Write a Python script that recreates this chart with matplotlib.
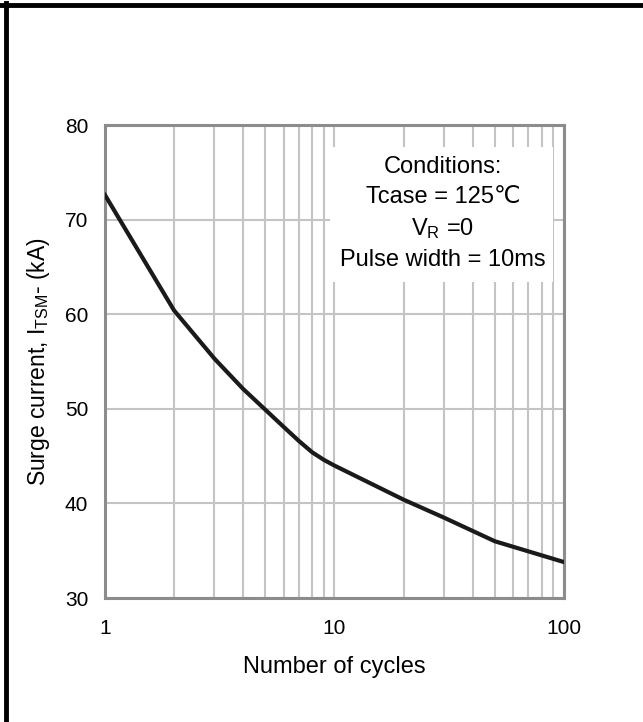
import matplotlib.pyplot as plt
from matplotlib.lines import Line2D
from matplotlib.patches import Rectangle

plt.rcParams['font.family'] = ['Liberation Sans', 'DejaVu Sans']
plt.rcParams['mathtext.fontset'] = 'custom'
plt.rcParams['mathtext.rm'] = 'Liberation Sans'

# Surge current vs number of cycles
cycles = [1, 2, 3, 4, 5, 6, 7, 8, 9, 10, 20, 30, 50, 100]
surge_ka = [72.6, 60.4, 55.3, 52.1, 49.9, 48.1, 46.6, 45.4, 44.6, 44.0, 40.4, 38.5, 36.0, 33.8]

y_ticks = [30, 40, 50, 60, 70, 80]
x_ticks = [1, 10, 100]
x_tick_labels = ['1', '10', '100']

conditions = ['Conditions:', 'Tcase = 125\u2103', r'$\mathregular{V_R}$ =0', 'Pulse width = 10ms']

fig = plt.figure(figsize=(6.43, 7.22), dpi=100)
ax = fig.add_axes([0.1633, 0.1717, 0.7138, 0.6551])

ax.plot(cycles, surge_ka, color='#1a1a1a', linewidth=3.0, zorder=4)

ax.set_xscale('log')
ax.set_xlim(1, 100)
ax.set_ylim(30, 80)
ax.set_xticks(x_ticks)
ax.set_xticklabels(x_tick_labels)
ax.set_yticks(y_ticks)
ax.tick_params(axis='both', which='both', length=0, labelsize=15, colors='black')
ax.tick_params(axis='x', pad=15)
ax.tick_params(axis='y', pad=12)

ax.set_axisbelow(True)
ax.grid(True, which='major', color='#c4c4c4', linewidth=1.5)
ax.grid(True, which='minor', axis='x', color='#c4c4c4', linewidth=1.5)
for s in ax.spines.values():
    s.set_color('#8c8c8c')
    s.set_linewidth(2.2)

ax.set_xlabel('Number of cycles', fontsize=17, labelpad=13)
ax.set_ylabel(r'Surge current, I$_{\mathregular{TSM}}$- (kA)', fontsize=16.5, labelpad=9)

# white box holding the test conditions
ax.add_patch(Rectangle((0.49, 0.668), 0.486, 0.285, transform=ax.transAxes,
                       facecolor='white', edgecolor='none', zorder=1.5))
for txt, yy in zip(conditions, [0.911, 0.848, 0.782, 0.714]):
    ax.text(0.736, yy, txt, transform=ax.transAxes, ha='center', va='center',
            fontsize=17, zorder=3)

# frame of the original page (only top and left edges are in view)
fig.add_artist(Line2D([0.0, 1.0], [1 - 5 / 722, 1 - 5 / 722], color='black', linewidth=3.5))
fig.add_artist(Line2D([5.5 / 643, 5.5 / 643], [0.0, 1 - 3 / 722], color='black', linewidth=3.5))

fig.savefig('out.png', dpi=100, facecolor='white')
